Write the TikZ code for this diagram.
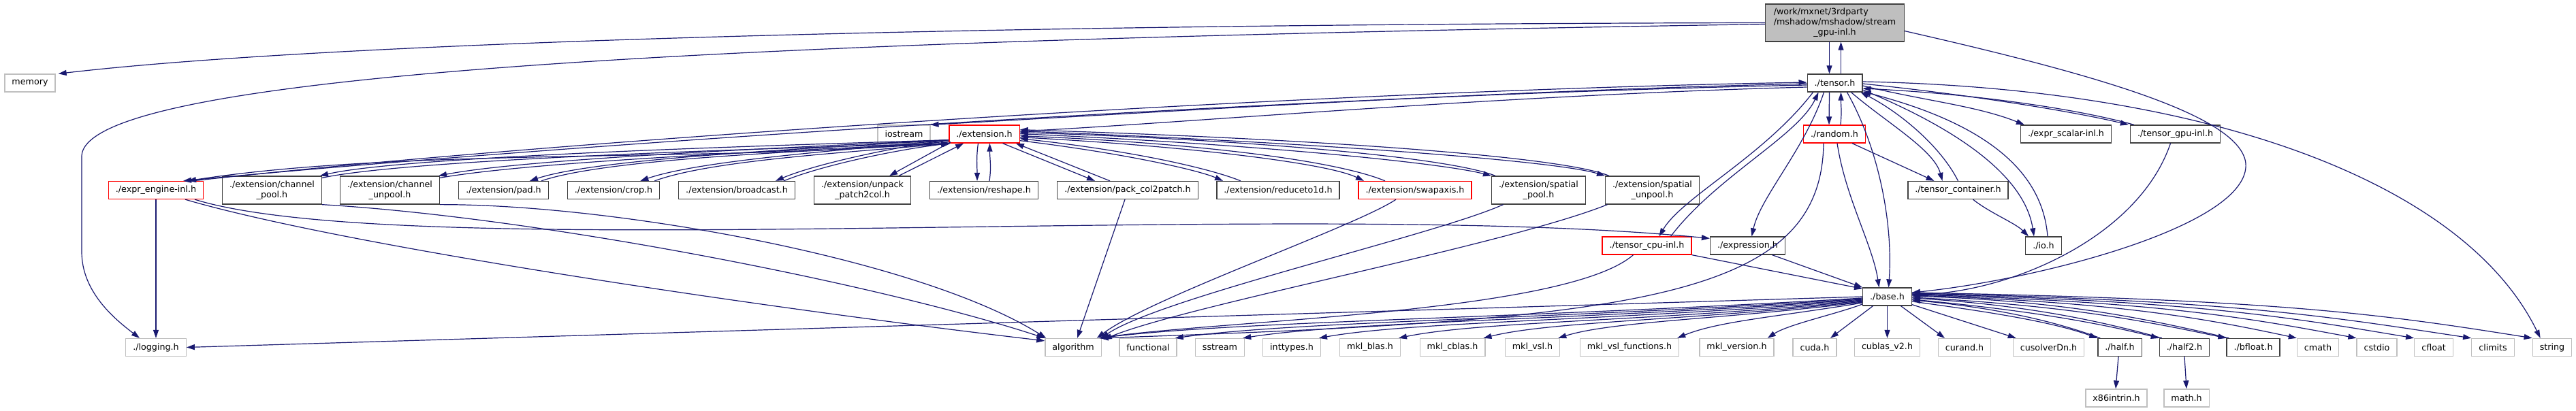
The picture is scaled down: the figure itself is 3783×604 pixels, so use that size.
\documentclass[tikz,border=0pt]{standalone}
\usepackage{fontspec}
\setmainfont{DejaVu Sans}
\usetikzlibrary{arrows.meta}
\definecolor{edgec}{HTML}{191970}
\definecolor{gbord}{HTML}{BFBFBF}
\definecolor{nbord}{HTML}{404040}
\definecolor{mfill}{HTML}{BFBFBF}
\definecolor{rbord}{HTML}{FF0000}
\tikzset{
  hdr/.style={draw=nbord, line width=1.3pt, fill=white, text=black,
    font=\fontsize{12.7}{15}\selectfont, inner xsep=10.5pt, inner ysep=0pt,
    minimum height=26pt},
  sys/.style={hdr, draw=gbord},
  trunc/.style={hdr, draw=rbord},
  two/.style={align=center, minimum height=41pt},
  dep/.style={draw=edgec, line width=1.2pt, -{Triangle[length=12pt,width=8pt]}}
}
\begin{document}
\begin{tikzpicture}[x=1pt,y=-1pt]
\fill[white] (0,0) rectangle (3783,604);
\useasboundingbox (0,0) rectangle (3783,604);
% ---- nodes
\node[hdr, fill=mfill, minimum height=55pt, inner xsep=12pt] (M) at (2694.5,33.5)
  {\begin{tabular}{@{}l@{}}/work/mxnet/3rdparty\\/mshadow/mshadow/stream\\\multicolumn{1}{@{}c@{}}{\_gpu-inl.h}\end{tabular}};
\node[sys] (memory) at (44,122) {memory};
\node[hdr] (T) at (2694.5,122) {./tensor.h};
\node[sys] (iostream) at (1327.5,197) {iostream};
\node[trunc] (extension) at (1445.5,197) {./extension.h};
\node[trunc] (random) at (2694,197) {./random.h};
\node[hdr] (exprscalar) at (3034,197) {./expr\_scalar-inl.h};
\node[hdr] (tensorgpu) at (3194.5,197) {./tensor\_gpu-inl.h};
\node[trunc] (exprengine) at (229,279.5) {./expr\_engine-inl.h};
\node[hdr,two] (chpool) at (399.5,279.5) {./extension/channel\\\_pool.h};
\node[hdr,two] (chunpool) at (572.5,279.5) {./extension/channel\\\_unpool.h};
\node[hdr] (pad) at (739.5,279.5) {./extension/pad.h};
\node[hdr] (crop) at (901,279.5) {./extension/crop.h};
\node[hdr] (bcast) at (1082,279.5) {./extension/broadcast.h};
\node[hdr,two] (unpack) at (1266.5,279.5) {./extension/unpack\\\_patch2col.h};
\node[hdr] (reshape) at (1445,279.5) {./extension/reshape.h};
\node[hdr] (packc) at (1656,279.5) {./extension/pack\_col2patch.h};
\node[hdr] (reduce) at (1877,279.5) {./extension/reduceto1d.h};
\node[trunc] (swap) at (2078,279.5) {./extension/swapaxis.h};
\node[hdr,two] (spool) at (2259.5,279.5) {./extension/spatial\\\_pool.h};
\node[hdr,two] (sunpool) at (2426.5,279.5) {./extension/spatial\\\_unpool.h};
\node[hdr] (container) at (2875.5,279.5) {./tensor\_container.h};
\node[trunc] (cpu) at (2418.5,361) {./tensor\_cpu-inl.h};
\node[hdr] (expression) at (2566.5,361) {./expression.h};
\node[hdr] (io) at (3001,361) {./io.h};
\node[hdr] (base) at (2771.5,436) {./base.h};
\node[sys] (logging) at (229,510.5) {./logging.h};
\node[sys] (algorithm) at (1576,510.5) {algorithm};
\node[sys] (functional) at (1686,510.5) {functional};
\node[sys] (sstream) at (1791.5,510.5) {sstream};
\node[sys] (inttypes) at (1897,510.5) {inttypes.h};
\node[sys] (mklblas) at (2012,510.5) {mkl\_blas.h};
\node[sys] (mklcblas) at (2133,510.5) {mkl\_cblas.h};
\node[sys] (mklvsl) at (2250.5,510.5) {mkl\_vsl.h};
\node[sys] (mklvslf) at (2393,510.5) {mkl\_vsl\_functions.h};
\node[sys] (mklversion) at (2550.5,510.5) {mkl\_version.h};
\node[sys] (cuda) at (2665,510.5) {cuda.h};
\node[sys] (cublas) at (2771.5,510.5) {cublas\_v2.h};
\node[sys] (curand) at (2885,510.5) {curand.h};
\node[sys] (cusolver) at (3008.5,510.5) {cusolverDn.h};
\node[hdr] (half) at (3113,510.5) {./half.h};
\node[hdr] (half2) at (3208,510.5) {./half2.h};
\node[hdr] (bfloat) at (3309,510.5) {./bfloat.h};
\node[sys] (cmath) at (3404,510.5) {cmath};
\node[sys] (cstdio) at (3490.5,510.5) {cstdio};
\node[sys] (cfloat) at (3574,510.5) {cfloat};
\node[sys] (climits) at (3661,510.5) {climits};
\node[sys] (string) at (3748,510.5) {string};
\node[sys] (x86) at (3108,585) {x86intrin.h};
\node[sys] (mathh) at (3211,585) {math.h};
% ---- main file
\draw[dep] ([xshift=-8pt]M.south) -- ([xshift=-8pt]T.north);
\draw[dep] ([xshift=9pt]T.north) -- ([xshift=9pt]M.south);
\draw[dep] (M.west) .. controls (1500,35) and (500,60) .. ([xshift=4pt]memory.north east);
\draw[dep] ([yshift=-2pt]M.west) .. controls (1200,58) and (120,100) .. (120,230) -- (120,370) .. controls (120,430) and (170,470) .. ([xshift=-24pt]logging.north);
\draw[dep] ([yshift=-12pt]M.east) .. controls (3080,110) and (3290,170) .. (3298,240) .. controls (3305,330) and (3000,410) .. ([yshift=6pt]base.east);
% ---- tensor.h
\draw[dep] ([yshift=-1pt]T.west) .. controls (2200,133) and (1700,165) .. (iostream.north east);
\draw[dep] ([yshift=-6pt]T.west) .. controls (2200,140) and (1750,180) .. ([yshift=4pt]extension.east);
\draw[dep] ([yshift=-3pt]T.west) .. controls (1900,140) and (800,215) .. ([xshift=40pt]exprengine.north);
\draw[dep] ([xshift=54pt]exprengine.north) .. controls (800,208) and (1900,134) .. ([yshift=1pt]T.west);
\draw[dep] ([xshift=-8pt]T.south) -- ([xshift=-8pt]random.north);
\draw[dep] ([xshift=9pt]random.north) .. controls +(2,-25) and +(0,25) .. ([xshift=9pt]T.south);
\draw[dep] ([yshift=-4pt]T.east) .. controls +(90,22) and +(-70,-28) .. ([xshift=6pt]exprscalar.north west);
\draw[dep] ([yshift=-1pt]T.east) .. controls (2900,140) and (3050,165) .. ([xshift=-2pt]tensorgpu.north west);
\draw[dep] ([xshift=6pt]tensorgpu.north west) .. controls (3050,160) and (2900,138) .. ([yshift=-8pt]T.east);
\draw[dep] ([xshift=24pt]T.south) .. controls (2770,180) and (2840,220) .. ([xshift=-23pt]container.north);
\draw[dep] (container.north) .. controls (2850,215) and (2790,165) .. ([xshift=-3pt]T.south east);
\draw[dep] ([yshift=-10pt]T.east) .. controls (2900,200) and (2975,270) .. ([xshift=-14pt]io.north);
\draw[dep] ([xshift=6pt]io.north) .. controls (3000,260) and (2930,185) .. ([yshift=1pt]T.south east);
\draw[dep] ([xshift=-32pt]T.south) .. controls (2590,230) and (2470,290) .. ([xshift=18pt]cpu.north);
\draw[dep] ([xshift=35pt]cpu.north) .. controls (2520,260) and (2640,200) .. ([xshift=-24pt]T.south);
\draw[dep] ([xshift=-16pt]T.south) .. controls (2650,220) and (2585,290) .. ([xshift=6pt]expression.north);
\draw[dep] ([xshift=18pt]T.south) .. controls (2760,220) and (2780,330) .. ([xshift=2pt]base.north);
\draw[dep] ([yshift=2pt]T.east) .. controls (3250,130) and (3620,270) .. ([xshift=12pt]string.north west);
% ---- random, container, gpu
\draw[dep] ([xshift=26pt]random.south) -- ([xshift=-35pt]container.north);
\draw[dep] ([xshift=4pt]random.south) .. controls (2710,290) and (2750,360) .. ([xshift=-12pt]base.north);
\draw[dep] ([xshift=-16pt]random.south) .. controls (2675,440) and (2400,470) .. ([xshift=-2pt]algorithm.north east);
\draw[dep] ([xshift=22pt]container.south) .. controls +(25,20) and +(-20,-20) .. ([xshift=-22pt]io.north);
\draw[dep] ([xshift=-7pt]tensorgpu.south) .. controls (3140,350) and (2950,430) .. ([yshift=3pt]base.east);
% ---- extension.h
\draw[dep] ([yshift=3pt]extension.south west) .. controls (1100,240) and (600,215) .. ([xshift=47pt]exprengine.north);
\draw[dep] ([yshift=5pt]extension.south west) .. controls (1200,212) and (600,228) .. ([xshift=-3pt]chpool.north east);
\draw[dep] ([yshift=-3pt]chpool.north east) .. controls (610,232) and (1200,216) .. ([xshift=1pt]extension.south west);
\draw[dep] ([yshift=5pt]extension.south west) .. controls (1200,215) and (780,232) .. ([xshift=-2pt]chunpool.north east);
\draw[dep] ([yshift=-3pt]chunpool.north east) .. controls (790,236) and (1200,219) .. ([xshift=1pt]extension.south west);
\draw[dep] ([yshift=5pt]extension.south west) .. controls (1200,218) and (880,232) .. ([xshift=-28pt]pad.north east);
\draw[dep] ([xshift=-11pt]pad.north east) .. controls (895,232) and (1200,222) .. ([xshift=1pt]extension.south west);
\draw[dep] ([yshift=5pt]extension.south west) .. controls (1250,220) and (1030,235) .. ([xshift=-29pt]crop.north east);
\draw[dep] ([xshift=-8pt]crop.north east) .. controls (1045,235) and (1250,224) .. ([xshift=2pt]extension.south west);
\draw[dep] ([yshift=5pt]extension.south west) .. controls (1320,215) and (1200,240) .. ([xshift=-29pt]bcast.north east);
\draw[dep] ([xshift=-17pt]bcast.north east) .. controls (1215,240) and (1330,218) .. ([xshift=3pt]extension.south west);
\draw[dep] ([xshift=3pt,yshift=2pt]extension.south west) -- ([xshift=-32pt]unpack.north east);
\draw[dep] ([xshift=-18pt]unpack.north east) -- ([xshift=22pt]extension.south west);
\draw[dep] ([xshift=-9pt]extension.south) .. controls +(-3,20) and +(0,-20) .. ([xshift=-10pt]reshape.north);
\draw[dep] ([xshift=8pt]reshape.north) .. controls +(3,-20) and +(0,22) .. ([xshift=8pt]extension.south);
\draw[dep] ([xshift=27pt]extension.south) -- ([xshift=-48pt]packc.north);
\draw[dep] ([xshift=-26pt]packc.north) -- ([xshift=-6pt]extension.south east);
\draw[dep] ([yshift=4pt]extension.south east) .. controls (1650,225) and (1760,250) .. ([xshift=-81pt]reduce.north);
\draw[dep] ([xshift=-55pt]reduce.north) .. controls (1770,245) and (1650,220) .. ([yshift=7pt]extension.south east);
\draw[dep] ([yshift=9pt]extension.south east) .. controls (1750,215) and (1950,240) .. ([xshift=-75pt]swap.north);
\draw[dep] ([xshift=-44pt]swap.north) .. controls (1960,235) and (1750,210) .. ([yshift=11pt]extension.south east);
\draw[dep] ([yshift=14pt]extension.south east) .. controls (1850,212) and (2120,240) .. (spool.north west);
\draw[dep] ([xshift=6pt]spool.north west) .. controls (2130,232) and (1850,206) .. ([yshift=16pt]extension.south east);
\draw[dep] ([yshift=18pt]extension.south east) .. controls (1900,208) and (2280,235) .. (sunpool.north west);
\draw[dep] ([xshift=6pt]sunpool.north west) .. controls (2290,228) and (1900,203) .. ([yshift=20pt]extension.south east);
% ---- expr_engine
\draw[dep] (exprengine.south) -- (logging.north);
\draw[dep] ([xshift=43pt]exprengine.south) .. controls (500,360) and (1100,450) .. ([yshift=-4pt]algorithm.north west);
\draw[dep] ([xshift=57pt]exprengine.south) .. controls (600,390) and (1900,290) .. ([yshift=-3pt]expression.north west);
% ---- extension files -> algorithm
\draw[dep] (chpool.south east) .. controls (800,320) and (1300,420) .. (algorithm.north west);
\draw[dep] (chunpool.south east) .. controls (900,300) and (1350,380) .. ([xshift=2pt]algorithm.north west);
\draw[dep] ([xshift=-4pt]packc.south) -- ([xshift=6pt]algorithm.north);
\draw[dep] ([xshift=-28pt]swap.south) .. controls +(-60,40) and +(80,-60) .. ([xshift=-7pt]algorithm.north east);
\draw[dep] ([xshift=-52pt]spool.south) .. controls +(-100,45) and +(90,-60) .. ([xshift=-1pt]algorithm.north east);
\draw[dep] ([xshift=-66pt]sunpool.south) .. controls +(-150,60) and +(120,-50) .. ([xshift=3pt,yshift=-2pt]algorithm.north east);
% ---- cpu, expression
\draw[dep] (cpu.south east) -- ([yshift=-2pt]base.north west);
\draw[dep] ([xshift=36pt]expression.south) -- (base.north west);
\draw[dep] ([xshift=-20pt]cpu.south) .. controls (2300,460) and (1800,470) .. ([xshift=-4pt]algorithm.north east);
% ---- base.h
\draw[dep] (base.west) -- (logging.east);
\draw[dep] ([yshift=-2pt]base.west) .. controls +(-500,30) and +(200,-25) .. ([xshift=-3pt]algorithm.north east);
\draw[dep] ([yshift=-3pt]base.west) .. controls +(-450,30) and +(180,-25) .. ([xshift=-3pt]functional.north east);
\draw[dep] ([yshift=-4pt]base.west) .. controls +(-400,30) and +(160,-25) .. ([xshift=-3pt]sstream.north east);
\draw[dep] ([yshift=-5pt]base.west) .. controls +(-350,30) and +(140,-25) .. ([xshift=-3pt]inttypes.north east);
\draw[dep] ([yshift=-6pt]base.west) .. controls +(-300,30) and +(120,-25) .. ([xshift=-3pt]mklblas.north east);
\draw[dep] ([yshift=-7pt]base.west) .. controls +(-250,28) and +(100,-25) .. ([xshift=-3pt]mklcblas.north east);
\draw[dep] ([yshift=-8pt]base.west) .. controls +(-200,25) and +(80,-25) .. ([xshift=-3pt]mklvsl.north east);
\draw[dep] ([yshift=-9pt]base.west) .. controls +(-120,20) and +(60,-25) .. ([xshift=-3pt]mklvslf.north east);
\draw[dep] ([yshift=-11pt]base.west) .. controls +(-40,15) and +(30,-20) .. ([xshift=-10pt]mklversion.north east);
\draw[dep] ([xshift=-21pt]base.south) -- ([xshift=23pt]cuda.north);
\draw[dep] (base.south) -- (cublas.north);
\draw[dep] ([xshift=20pt]base.south) -- ([xshift=-29pt]curand.north);
\draw[dep] ([yshift=2pt]base.south east) -- ([xshift=5pt]cusolver.north west);
\draw[dep] ([yshift=-7pt]base.east) .. controls +(110,15) and +(-70,-25) .. (half.north west);
\draw[dep] ([xshift=4pt]half.north west) .. controls +(-75,-28) and +(110,10) .. ([yshift=-5pt]base.east);
\draw[dep] ([yshift=-4pt]base.east) .. controls +(160,15) and +(-100,-25) .. (half2.north west);
\draw[dep] ([xshift=4pt]half2.north west) .. controls +(-100,-28) and +(160,10) .. ([yshift=-2pt]base.east);
\draw[dep] ([yshift=-1pt]base.east) .. controls +(230,12) and +(-120,-25) .. (bfloat.north west);
\draw[dep] ([xshift=4pt]bfloat.north west) .. controls +(-120,-28) and +(230,8) .. ([yshift=1pt]base.east);
\draw[dep] ([yshift=2pt]base.east) .. controls +(300,10) and +(-140,-30) .. (cmath.north west);
\draw[dep] ([yshift=3pt]base.east) .. controls +(360,10) and +(-160,-30) .. (cstdio.north west);
\draw[dep] ([yshift=4pt]base.east) .. controls +(420,10) and +(-180,-30) .. (cfloat.north west);
\draw[dep] ([yshift=5pt]base.east) .. controls +(480,10) and +(-200,-30) .. (climits.north west);
\draw[dep] ([yshift=6pt]base.east) .. controls +(540,10) and +(-220,-35) .. (string.north west);
\draw[dep] ([xshift=-2pt]half.south) -- ([xshift=-1pt]x86.north);
\draw[dep] (half2.south) -- (mathh.north);
\end{tikzpicture}
\end{document}
